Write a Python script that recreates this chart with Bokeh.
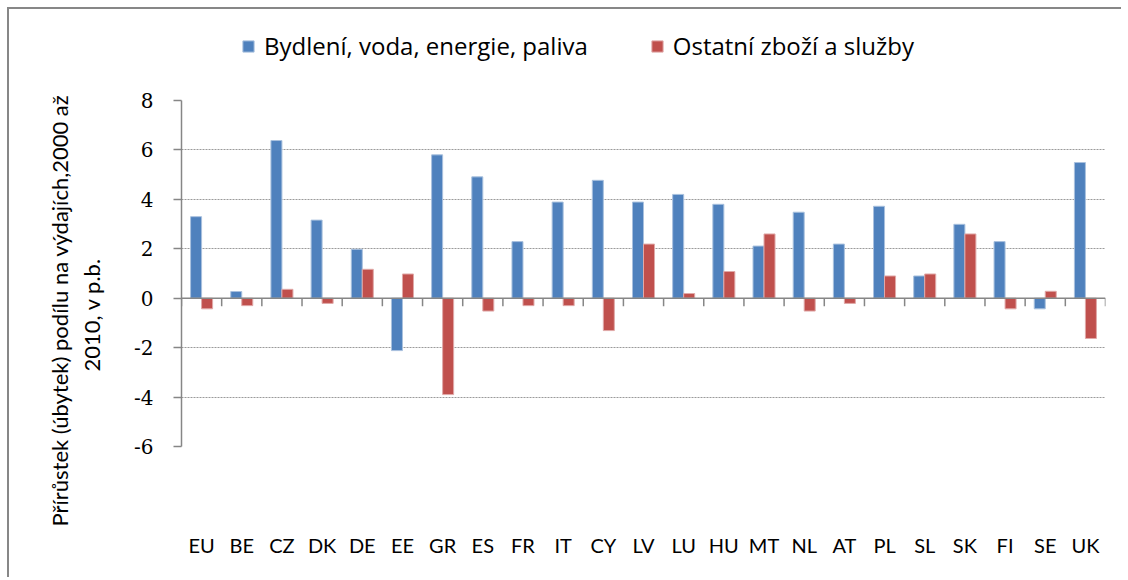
from bokeh.plotting import figure
from bokeh.layouts import column
from bokeh.models import (Range1d, FactorRange, Span, Legend, LegendItem,
                          SingleIntervalTicker, ColumnDataSource, Title)
from bokeh.transform import dodge
from bokeh.embed import file_html
from bokeh.resources import INLINE

countries = ["EU", "BE", "CZ", "DK", "DE", "EE", "GR", "ES", "FR", "IT", "CY", "LV",
             "LU", "HU", "MT", "NL", "AT", "PL", "SL", "SK", "FI", "SE", "UK"]
housing = [3.3, 0.27, 6.38, 3.16, 1.98, -2.12, 5.8, 4.91, 2.29, 3.89, 4.77, 3.89,
           4.2, 3.8, 2.11, 3.48, 2.19, 3.72, 0.9, 2.99, 2.29, -0.43, 5.49]
other = [-0.43, -0.3, 0.36, -0.21, 1.17, 0.98, -3.9, -0.52, -0.3, -0.3, -1.31, 2.19,
         0.19, 1.08, 2.6, -0.52, -0.21, 0.9, 0.98, 2.6, -0.43, 0.28, -1.63]
series_names = ["Bydlení, voda, energie, paliva", "Ostatní zboží a služby"]
y_min, y_max, y_step = -6, 8, 2
y_title_lines = ["Přírůstek (úbytek) podílu na výdajích,2000 až", "2010, v p.b."]

BLUE = "#4f81bd"
RED = "#c0504d"
GRAY = "#868686"
SANS = "Lato"

src = ColumnDataSource(dict(cat=countries, housing=housing, other=other))

W = 1112
LEG_H = 80
H = 568 - LEG_H
MB_L, MB_R, MB_T, MB_B = 172, 16, 11, 131

# ---- legend strip ----
lf = figure(width=W, height=LEG_H, x_range=Range1d(0, 1), y_range=Range1d(0, 1),
            output_backend="svg", toolbar_location=None,
            min_border_left=0, min_border_right=0, min_border_top=0, min_border_bottom=0)
lf.axis.visible = False
lf.grid.visible = False
lf.outline_line_color = None
# legend proxies (zero-size, outside the visible range)
proxy = ColumnDataSource(dict(x=[-1.0], top=[0.0]))
d1 = lf.vbar(x="x", top="top", width=0, source=proxy, fill_color=BLUE, line_color="#a9c1de")
d2 = lf.vbar(x="x", top="top", width=0, source=proxy, fill_color=RED, line_color="#e0a9a8")
legend = Legend(items=[LegendItem(label=series_names[0], renderers=[d1]),
                       LegendItem(label=series_names[1], renderers=[d2])],
                orientation="horizontal", location=(60, 27),
                padding=0, margin=0, spacing=62, glyph_width=14, glyph_height=14,
                label_standoff=9, label_text_font="Open Sans", label_text_font_size="24px",
                label_text_color="black", border_line_color=None,
                background_fill_alpha=0)
lf.add_layout(legend)

# ---- main chart ----
p = figure(width=W, height=H, x_range=FactorRange(*countries),
           y_range=Range1d(y_min, y_max), output_backend="svg",
           toolbar_location=None, min_border_left=MB_L, min_border_right=MB_R,
           min_border_top=MB_T, min_border_bottom=MB_B)
p.outline_line_color = None
p.background_fill_color = "white"
p.border_fill_color = "white"

bw = 0.274
r1 = p.vbar(x=dodge("cat", -bw / 2, range=p.x_range), top="housing", bottom=0,
            width=bw, source=src, fill_color=BLUE, line_color="#a9c1de", line_width=1)
r2 = p.vbar(x=dodge("cat", bw / 2, range=p.x_range), top="other", bottom=0,
            width=bw, source=src, fill_color=RED, line_color="#e0a9a8", line_width=1)

p.add_layout(Span(location=0, dimension="width", line_color=GRAY, line_width=1.5))

px_per_unit = (H - MB_T - MB_B) / (y_max - y_min)
tick_len = 8 / px_per_unit
bsrc = ColumnDataSource(dict(cat=countries))
p.segment(x0=dodge("cat", -0.5, range=p.x_range), x1=dodge("cat", -0.5, range=p.x_range),
          y0=0, y1=-tick_len, source=bsrc, line_color=GRAY, line_width=1.5)
lsrc = ColumnDataSource(dict(cat=countries[-1:]))
p.segment(x0=dodge("cat", 0.5, range=p.x_range), x1=dodge("cat", 0.5, range=p.x_range),
          y0=0, y1=-tick_len, source=lsrc, line_color=GRAY, line_width=1.5)

yticks = list(range(y_min, y_max + 1, y_step))
p.yaxis.ticker = SingleIntervalTicker(interval=y_step)
p.yaxis.major_label_overrides = {t: str(t) for t in yticks}
p.yaxis.axis_line_color = GRAY
p.yaxis.axis_line_width = 1.5
p.yaxis.major_tick_line_color = GRAY
p.yaxis.major_tick_line_width = 1.5
p.yaxis.major_tick_out = 8
p.yaxis.major_tick_in = 0
p.yaxis.minor_tick_line_color = None
p.yaxis.major_label_standoff = 20
p.yaxis.major_label_text_font = "DejaVu Serif"
p.yaxis.major_label_text_font_size = "20px"
p.yaxis.major_label_text_color = "black"

p.xaxis.axis_line_color = None
p.xaxis.major_tick_line_color = None
p.xaxis.minor_tick_line_color = None
p.xaxis.major_label_standoff = 80
p.xaxis.major_label_text_font = SANS
p.xaxis.major_label_text_font_size = "20px"
p.xaxis.major_label_text_color = "black"

p.xgrid.grid_line_color = None
p.ygrid.grid_line_color = "#9a9a9a"
p.ygrid.grid_line_dash = "2 1"
p.ygrid.grid_line_width = 1
p.ygrid.ticker = SingleIntervalTicker(interval=y_step)

t2 = Title(text=y_title_lines[1], align="left", offset=75, standoff=53,
           text_font=SANS, text_font_size="22px", text_font_style="normal",
           text_color="black")
p.add_layout(t2, "left")
t1 = Title(text=y_title_lines[0], align="left", offset=-80, standoff=-46,
           text_font=SANS, text_font_size="22px", text_font_style="normal",
           text_color="black")
p.add_layout(t1, "left")

layout = column(lf, p, spacing=0)
layout.styles = {"margin-left": "7px", "margin-top": "7px",
                 "border-top": "2px solid #878787", "border-left": "2px solid #878787"}

open("out.html", "w").write(file_html(layout, INLINE))
